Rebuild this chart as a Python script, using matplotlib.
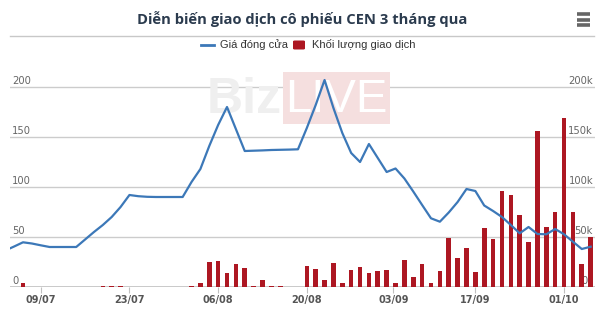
import matplotlib
matplotlib.use("Agg")
import matplotlib.pyplot as plt
import matplotlib.transforms as mtransforms
from matplotlib.patches import Rectangle, FancyBboxPatch
from matplotlib.lines import Line2D
import numpy as np
import pandas as pd

# Trading days (ordinal axis), 03/09 was a market holiday
dates = pd.bdate_range("2018-07-03", "2018-10-04")
dates = dates[dates != pd.Timestamp("2018-09-03")]

# Closing price (left axis)
price = [36.5, 40.5, 44.7, 43.5, 41.7, 40, 40, 40, 40, 47.5, 55,
         62, 70, 80, 92, 90.8, 90.2, 90, 90, 90, 90,
         105, 118, 141, 162, 180, 158, 136, 136.3, 136.6, 137,
         137.2, 137.4, 137.7, 159, 182, 207, 179, 154, 134, 125,
         143, 129, 115, 118.5, 108.5, 95.5, 82, 68.7, 65.3, 74.5,
         85, 98, 96, 81.5, 76, 70, 62, 53.7, 60, 53,
         52.7, 58, 52.7, 45.3, 38, 40.3]

# Trading volume in thousands (right axis)
volume_k = [0, 0, 4.5, 0, 0, 0, 0, 0, 0, 0, 0,
            0.6, 0.6, 0.6, 0, 0, 0, 0, 0, 0, 0,
            0.8, 4, 25, 26, 14, 23, 19, 1, 7, 0.8, 0.8, 0, 0,
            21.3, 18, 7, 24.3, 4.3, 17, 19.7, 13.7, 16.3, 17, 4.3,
            27, 9.7, 23, 3.7, 16.3, 49.3, 28.7, 39.3, 15.3, 59.3, 47.7,
            96, 91.7, 72, 44.7, 156.3, 60.3, 75.3, 169.3, 75.3, 23.3, 50.3]
volume = [v * 1000 for v in volume_k]

tick_dates = ["2018-07-09", "2018-07-23", "2018-08-06", "2018-08-20",
              "2018-09-03", "2018-09-17", "2018-10-01"]
tick_labels = ["09/07", "23/07", "06/08", "20/08", "03/09", "17/09", "01/10"]

price_ticks = [0, 50, 100, 150, 200]
volume_ticks = [0, 50000, 100000, 150000, 200000]
volume_tick_labels = ["0k", "50k", "100k", "150k", "200k"]

title = "Diễn biến giao dịch cô phiếu CEN 3 tháng qua"
legend_labels = ["Giá đóng cửa", "Khối lượng giao dịch"]

LINE_COLOR = "#3c78b8"
BAR_COLOR = "#ad1722"
GRID_COLOR = "#cccccc"
W, H = 604, 315

# Ordinal positions (every trading day equally spaced)
pos = np.arange(len(dates))
date_ns = dates.asi8
tick_pos = np.interp(pd.to_datetime(tick_dates).asi8, date_ns, pos)

fig = plt.figure(figsize=(W / 100, H / 100), dpi=100)
fig.patch.set_facecolor("white")

# plot area in pixels: x 10..595, y 62..287
left, right, top, bottom = 10, 595, 62, 287
rect = [left / W, 1 - bottom / H, (right - left) / W, (bottom - top) / H]
ax_vol = fig.add_axes(rect)
ax = ax_vol.twinx()
ax.set_zorder(ax_vol.get_zorder() + 1)
ax.patch.set_visible(False)

x_left = 0.534
x_right = 66.49
for a in (ax, ax_vol):
    a.set_xlim(x_left, x_right)
    for s in a.spines.values():
        s.set_visible(False)
    a.tick_params(left=False, right=False, labelleft=False, labelright=False)
ax.set_ylim(0, 225)
ax_vol.set_ylim(0, 225000)

# gridlines
for v in volume_ticks[1:]:
    ax_vol.axhline(v, color=GRID_COLOR, lw=1, zorder=0)
ax_vol.axhline(0, color="#c0c0c0", lw=1.2, zorder=0.5)

# watermark
def ax_frac(px, py):
    return (px - left) / (right - left), (bottom - py) / (bottom - top)

bx, by = ax_frac(283, 124)
bx2, by2 = ax_frac(390, 72)
ax_vol.add_patch(Rectangle((bx, by), bx2 - bx, by2 - by, transform=ax_vol.transAxes,
                           facecolor="#f5dfdf", edgecolor="none", zorder=0.2))
tx, ty = ax_frac(282, 100)
ax_vol.text(tx, ty, "Biz", transform=ax_vol.transAxes, ha="right", va="center",
            fontsize=36, fontweight="bold", color="#efefef", family="Liberation Sans", zorder=0.3)
tx, ty = ax_frac(336, 100)
ax_vol.text(tx, ty, "LIVE", transform=ax_vol.transAxes, ha="center", va="center",
            fontsize=34, color="white", family="Liberation Sans", zorder=0.3)

# volume bars
ax_vol.bar(pos, volume, width=0.52, color=BAR_COLOR, zorder=2)

# price line
ax.plot(pos, price, color=LINE_COLOR, lw=1.6, zorder=3, solid_joinstyle="round")

# y labels drawn inside the plot area
trans_l = mtransforms.blended_transform_factory(ax.transAxes, ax.transData)
for v in price_ticks:
    ax.text(2 / (right - left), v + 1.5, str(v), transform=trans_l, ha="left", va="bottom",
            fontsize=7.2, color="#666666", zorder=1)
trans_r = mtransforms.blended_transform_factory(ax_vol.transAxes, ax_vol.transData)
for v, lab in zip(volume_ticks, volume_tick_labels):
    ax_vol.text((593 - left) / (right - left), v + 1500, lab, transform=trans_r,
                ha="right", va="bottom", fontsize=7.2, color="#666666", zorder=1)

# x ticks
ax_vol.set_xticks(tick_pos)
ax_vol.set_xticklabels(tick_labels)
ax_vol.tick_params(axis="x", length=4, color="#c0c0c0", pad=2, labelsize=7,
                   labelcolor="#555555", bottom=True)
for t in ax_vol.get_xticklabels():
    t.set_fontweight("bold")

# title, separator and menu icon
fig.text(302 / W, 1 - 19 / H, title, ha="center", va="center", fontsize=10.6,
         fontweight="bold", color="#2b3b4e", family="Open Sans")
fig.add_artist(Line2D([10 / W, 594 / W], [1 - 36 / H] * 2, color="#c8c8c8", lw=1))
for yy in (14, 19.5, 25):
    fig.add_artist(Line2D([577 / W, 590 / W], [1 - yy / H] * 2, color="#666666", lw=2.6,
                          solid_capstyle="butt"))

# legend
ly = 1 - 45 / H
fig.add_artist(Line2D([201 / W, 214 / W], [ly, ly], color=LINE_COLOR, lw=2))
fig.text(220 / W, ly, legend_labels[0], ha="left", va="center", fontsize=8,
         color="#333333", family="Liberation Sans")
fig.add_artist(FancyBboxPatch((293 / W, ly - 4.5 / H), 12 / W, 9 / H,
                              boxstyle="round,pad=0,rounding_size=0.003",
                              transform=fig.transFigure, facecolor=BAR_COLOR, edgecolor="none"))
fig.text(312 / W, ly, legend_labels[1], ha="left", va="center", fontsize=8,
         color="#333333", family="Liberation Sans")

fig.savefig("out.png", dpi=100)
